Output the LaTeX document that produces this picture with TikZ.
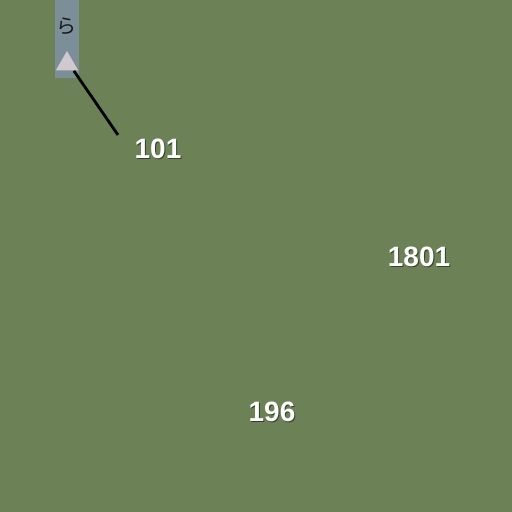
\documentclass[tikz,border=0pt]{standalone}
\usepackage{fontspec}
\setmainfont{Liberation Sans}
\newfontfamily\jpfont{Noto Sans CJK JP}
\usetikzlibrary{shapes.geometric}
\definecolor{fieldgreen}{RGB}{108,129,86}
\definecolor{stripblue}{RGB}{124,143,152}
\definecolor{markgrey}{RGB}{210,200,208}
\definecolor{haloshade}{RGB}{52,64,44}
\tikzset{
  numlabel/.style={text=white, font=\bfseries\fontsize{14}{14}\selectfont, inner sep=0pt},
  numshade/.style={text=haloshade, font=\bfseries\fontsize{14}{14}\selectfont, inner sep=0pt}
}
\begin{document}
\begin{tikzpicture}[x=0.5pt,y=-0.5pt]
            \fill[fieldgreen] (0,0) rectangle (512,512);
            \useasboundingbox (0,0) rectangle (512,512);
            \fill[stripblue] (55,0) rectangle (79,78);
            \node[text=black!90, font=\jpfont\fontsize{10}{10}\selectfont, inner sep=0pt] (glyph) at (66,26) {ら};
            \node[regular polygon, regular polygon sides=3, fill=markgrey, minimum size=13pt, inner sep=0pt] (mark) at (67,64) {};
            \coordinate (tail) at (118,135);
            \draw[line width=1.4pt, black] (mark.south east) -- (tail);
            \node[numshade] (s101) at (159,150) {101};
            \node[numlabel] (n101) at (158,149) {101};
            \node[numshade] (s1801) at (420,258) {1801};
            \node[numlabel] (n1801) at (419,257) {1801};
            \node[numshade] (s196) at (273,413) {196};
            \node[numlabel] (n196) at (272,412) {196};
        \end{tikzpicture}
\end{document}
